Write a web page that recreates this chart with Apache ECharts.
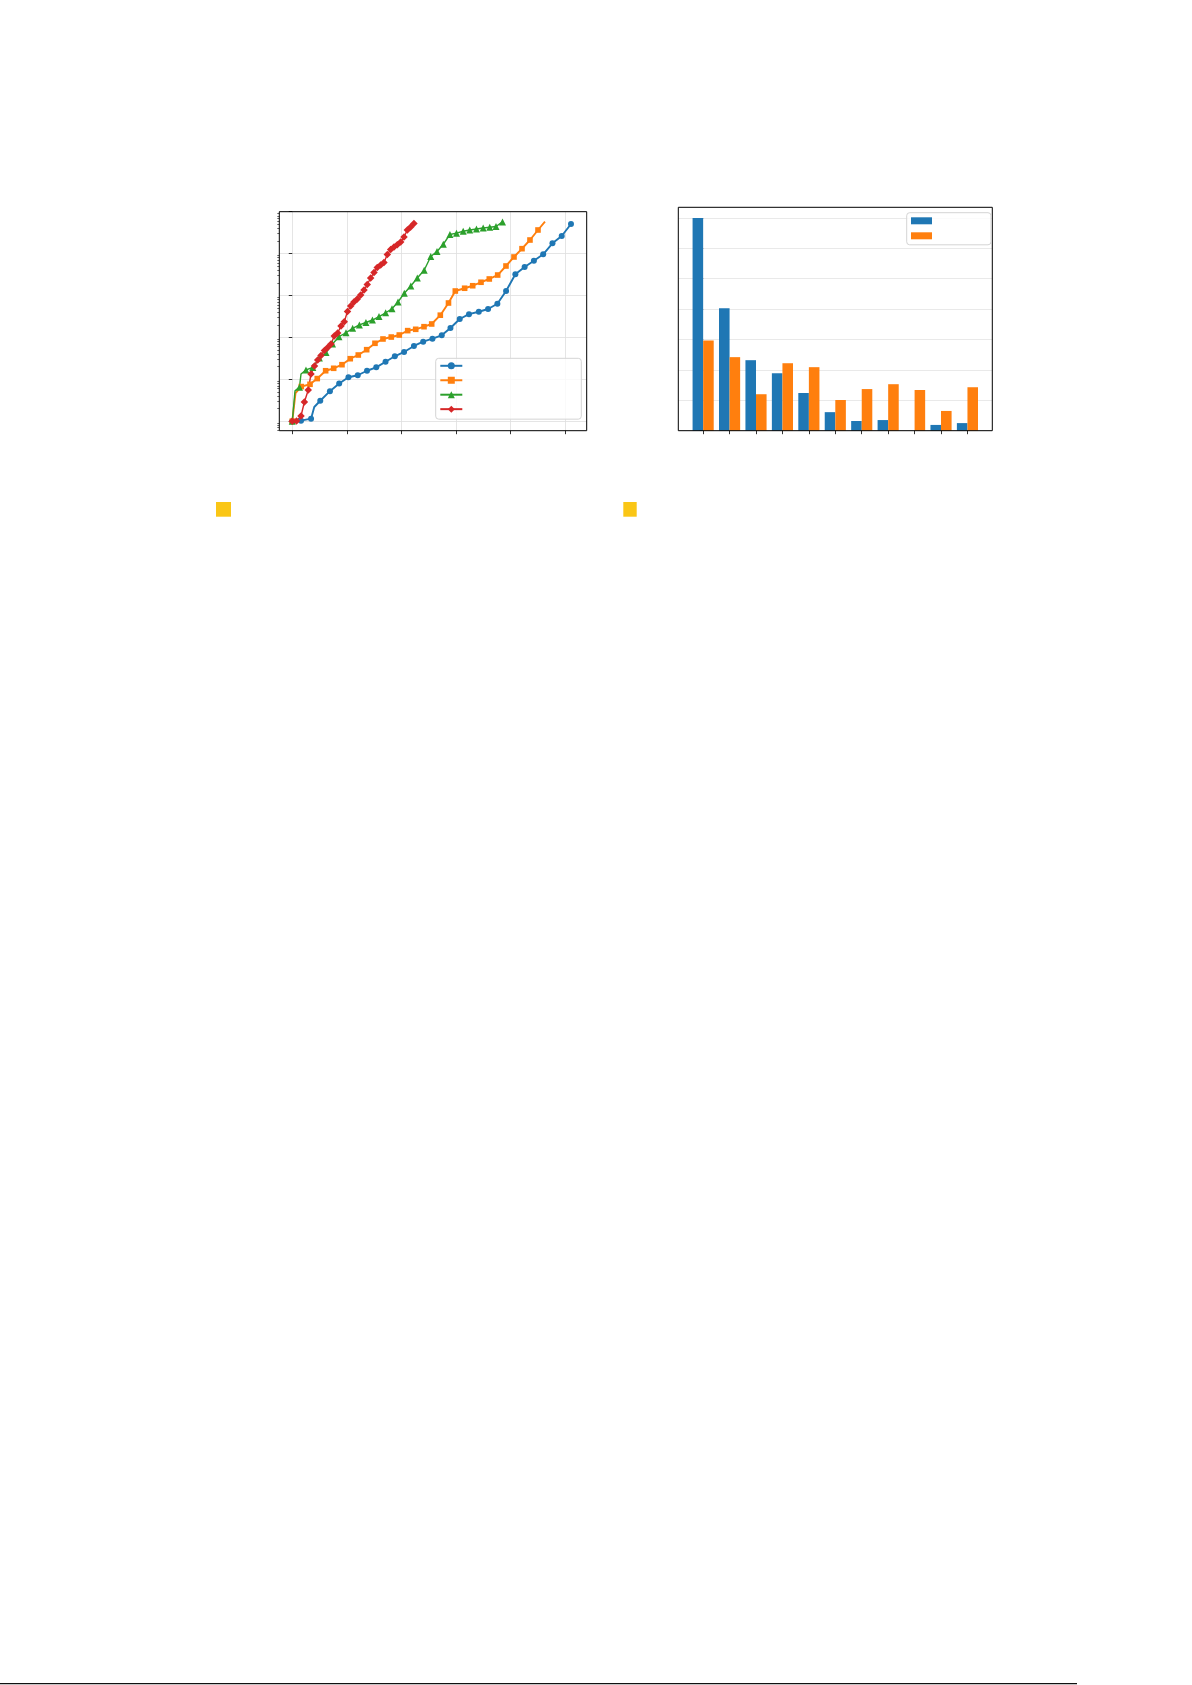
<!DOCTYPE html>
<html>
<head>
<meta charset="utf-8">
<script src="https://cdn.jsdelivr.net/npm/echarts@6/dist/echarts.min.js"></script>
<style>
html,body{margin:0;padding:0;background:#ffffff;}
#c{width:1192px;height:1685px;}
</style>
</head>
<body>
<div id="c"></div>
<script>
// ---------- left chart (log scale lines) ----------
const blueX = [0, 1.6, 3.44, 4.03, 5.13, 6.9, 8.6, 10.3, 12.0, 13.7, 15.4, 17.1, 18.8, 20.5, 22.3, 24.0, 25.7, 27.4, 29.0, 30.7, 32.4, 34.2, 35.9, 37.6, 39.2, 40.9, 42.6, 44.3, 46.0, 47.7, 49.4, 51.1];
const blueY = [1, 1.03, 1.15, 2.18, 3.07, 5.2, 7.9, 11.2, 12.5, 16.0, 19.3, 26.3, 35.4, 44.9, 62.4, 78.9, 93.1, 112, 168, 275, 358, 410, 476, 637, 1280, 3200, 4790, 6760, 9610, 17600, 26300, 50800];
const blueNoMarker = [3];

const orangeX = [0, 0.59, 1.65, 3.25, 4.58, 6.12, 7.59, 9.11, 10.63, 12.1, 13.64, 15.16, 16.63, 18.15, 19.62, 21.16, 22.63, 24.15, 25.56, 27.14, 28.64, 29.89, 31.6, 33.08, 34.6, 36.12, 37.66, 39.18, 40.65, 42.12, 43.58, 45.05, 46.33];
const orangeY = [1, 4.7, 6.7, 7.6, 10.4, 16.0, 18.3, 22.3, 31.0, 38.0, 50.9, 72.3, 91.6, 102, 114, 145, 156, 180, 209, 339, 662, 1280, 1490, 1710, 2070, 2480, 3080, 5060, 8300, 13100, 21100, 36600, 57700];
const orangeNoMarker = [1, 32];

const greenX = [0, 0.5, 1.32, 1.6, 2.51, 3.76, 4.97, 6.18, 7.37, 8.56, 9.85, 11.07, 12.3, 13.51, 14.7, 15.9, 17.12, 18.28, 19.38, 20.54, 21.73, 22.92, 24.18, 25.39, 26.53, 27.69, 28.91, 30.11, 31.33, 32.54, 33.77, 35.0, 36.21, 37.35, 38.54];
const greenY = [1, 5.3, 6.5, 13.4, 16.7, 19.1, 32.2, 43.6, 69.5, 104, 129, 165, 198, 227, 260, 315, 387, 482, 700, 1135, 1690, 2620, 4020, 8530, 11200, 16700, 28600, 30700, 34100, 36600, 38600, 40800, 42400, 44400, 57100];
const greenNoMarker = [1, 3];

const redX = [0, 0.77, 1.6, 2.22, 2.93, 3.43, 4.07, 4.66, 5.27, 5.9, 6.49, 7.1, 7.7, 8.32, 8.93, 9.53, 10.12, 10.71, 11.31, 11.92, 12.54, 13.15, 13.75, 14.37, 14.98, 15.58, 16.21, 16.81, 17.42, 18.04, 18.65, 19.25, 19.88, 20.48, 21.09, 21.71, 22.31];
const redY = [1, 1.01, 1.33, 2.87, 5.55, 13.4, 20.8, 28.9, 37.0, 48.7, 57.4, 69.5, 108, 127, 187, 237, 415, 561, 700, 825, 1030, 1350, 1830, 2620, 3540, 4660, 5340, 6130, 9520, 12500, 14400, 16300, 18900, 24900, 36600, 43100, 52300];
const redNoMarker = [];

const lineNames = ['Series 1', 'Series 2', 'Series 3', 'Series 4'];
const lineXTicks = [0, 10, 20, 30, 40, 50];
const logMajorTicks = [1, 10, 100, 1000, 10000, 100000];
const logMinorTicks = [0.6, 0.7, 0.8, 0.9,
  2, 3, 4, 5, 6, 7, 8, 9,
  20, 30, 40, 50, 60, 70, 80, 90,
  200, 300, 400, 500, 600, 700, 800, 900,
  2000, 3000, 4000, 5000, 6000, 7000, 8000, 9000,
  20000, 30000, 40000, 50000, 60000, 70000, 80000, 90000];

// ---------- right chart (grouped bars) ----------
const barPositions = [0, 1, 2, 3, 4, 5, 6, 7, 8, 9, 10];
const barNames = ['Group A', 'Group B'];
const blueBars = [7.0, 4.03, 2.32, 1.89, 1.24, 0.61, 0.32, 0.35, 0, 0.19, 0.25];
const orangeBars = [2.97, 2.42, 1.20, 2.22, 2.09, 1.01, 1.37, 1.53, 1.34, 0.65, 1.43];
const barYTicks = [0, 1, 2, 3, 4, 5, 6, 7];

const C_BLUE = '#1f77b4', C_ORANGE = '#ff7f0e', C_GREEN = '#2ca02c', C_RED = '#d62728';

function lineData(xs, ys, noMarker) {
  return xs.map((x, i) => noMarker.indexOf(i) >= 0 ? { value: [x, ys[i]], symbol: 'none' } : [x, ys[i]]);
}
function lineSeries(name, xs, ys, noMarker, color, symbol, size, width) {
  return {
    name: name, type: 'line', xAxisIndex: 0, yAxisIndex: 0,
    data: lineData(xs, ys, noMarker),
    symbol: symbol, symbolSize: size, showSymbol: true, showAllSymbol: true,
    lineStyle: { color: color, width: width },
    itemStyle: { color: color },
    emphasis: { disabled: true },
    z: 2
  };
}

const chart = echarts.init(document.getElementById('c'), null, { renderer: 'canvas' });
const tickStyle = { color: '#000', width: 0.8 };
const option = {
  animation: false,
  backgroundColor: '#ffffff',
  grid: [
    { left: 279.3, top: 211.7, width: 307.4, height: 219, show: true, z: 5,
      backgroundColor: 'transparent', borderColor: '#000', borderWidth: 1 },
    { left: 678.3, top: 207.3, width: 314, height: 223.4, show: true, z: 5,
      backgroundColor: 'transparent', borderColor: '#000', borderWidth: 1 }
  ],
  xAxis: [
    { gridIndex: 0, type: 'value', min: -2.38, max: 53.98,
      axisLine: { show: false }, axisLabel: { show: false },
      axisTick: { show: true, inside: false, length: 3.5, lineStyle: tickStyle, customValues: lineXTicks },
      splitLine: { show: true, lineStyle: { color: '#dedede', width: 0.8 } } },
    { gridIndex: 1, type: 'value', min: -0.94, max: 10.94,
      axisLine: { show: false }, axisLabel: { show: false },
      axisTick: { show: true, inside: false, length: 3.5, lineStyle: tickStyle, customValues: barPositions },
      splitLine: { show: false } }
  ],
  yAxis: [
    { gridIndex: 0, type: 'log', logBase: 10, min: 0.593, max: 100000, position: 'left',
      axisLine: { show: false }, axisLabel: { show: false },
      axisTick: { show: true, inside: false, length: 3.5, lineStyle: tickStyle, customValues: logMajorTicks },
      splitLine: { show: true, lineStyle: { color: '#dedede', width: 0.8 } } },
    { gridIndex: 0, type: 'log', logBase: 10, min: 0.593, max: 100000, position: 'left', offset: 0,
      axisLine: { show: false }, axisLabel: { show: false },
      axisTick: { show: true, inside: false, length: 2, lineStyle: { color: '#000', width: 0.6 }, customValues: logMinorTicks },
      splitLine: { show: false } },
    { gridIndex: 1, type: 'value', min: 0, max: 7.35,
      axisLine: { show: false }, axisLabel: { show: false },
      axisTick: { show: true, inside: false, length: 3.5, lineStyle: tickStyle, customValues: barYTicks },
      splitLine: { show: true, lineStyle: { color: '#e3e3e3', width: 0.8 } } }
  ],
  legend: [
    { data: lineNames, orient: 'vertical', left: 435.7, top: 358.3,
      itemWidth: 22, itemHeight: 8.75, itemGap: 7.45,
      padding: [4.0, 114, 6.5, 3.6],
      formatter: function () { return ''; },
      textStyle: { fontSize: 6, lineHeight: 6 },
      backgroundColor: 'rgba(255,255,255,0.8)', borderColor: '#d4d4d4', borderWidth: 1, borderRadius: 3,
      selectedMode: false, z: 6 },
    { data: barNames, orient: 'vertical', left: 906.7, top: 212.7,
      itemWidth: 21, itemHeight: 7, itemGap: 8, icon: 'rect',
      padding: [4.6, 54, 5.5, 4.3],
      formatter: function () { return ''; },
      textStyle: { fontSize: 6, lineHeight: 6 },
      backgroundColor: 'rgba(255,255,255,0.8)', borderColor: '#d4d4d4', borderWidth: 1, borderRadius: 3,
      selectedMode: false, z: 6 }
  ],
  series: [
    lineSeries(lineNames[0], blueX, blueY, blueNoMarker, C_BLUE, 'circle', 6, 1.9),
    lineSeries(lineNames[1], orangeX, orangeY, orangeNoMarker, C_ORANGE, 'rect', 5.6, 1.9),
    lineSeries(lineNames[2], greenX, greenY, greenNoMarker, C_GREEN, 'triangle', 7, 1.4),
    lineSeries(lineNames[3], redX, redY, redNoMarker, C_RED, 'diamond', 7.5, 1.4),
    { name: barNames[0], type: 'bar', xAxisIndex: 1, yAxisIndex: 2,
      data: barPositions.map((x, i) => [x, blueBars[i]]),
      barWidth: 10.57, barGap: '0%', itemStyle: { color: C_BLUE }, emphasis: { disabled: true } },
    { name: barNames[1], type: 'bar', xAxisIndex: 1, yAxisIndex: 2,
      data: barPositions.map((x, i) => [x, orangeBars[i]]),
      barWidth: 10.57, barGap: '0%', itemStyle: { color: C_ORANGE }, emphasis: { disabled: true } }
  ],
  graphic: [
    { type: 'rect', x: 216, y: 502, shape: { x: 0, y: 0, width: 15, height: 14.7 }, style: { fill: '#FAC616' }, silent: true },
    { type: 'rect', x: 623.3, y: 502, shape: { x: 0, y: 0, width: 13.4, height: 14.7 }, style: { fill: '#FAC616' }, silent: true },
    { type: 'line', shape: { x1: 0, y1: 1683.6, x2: 1077, y2: 1683.6 }, style: { stroke: '#111111', lineWidth: 1.2 }, silent: true }
  ]
};
chart.setOption(option);
</script>
</body>
</html>
